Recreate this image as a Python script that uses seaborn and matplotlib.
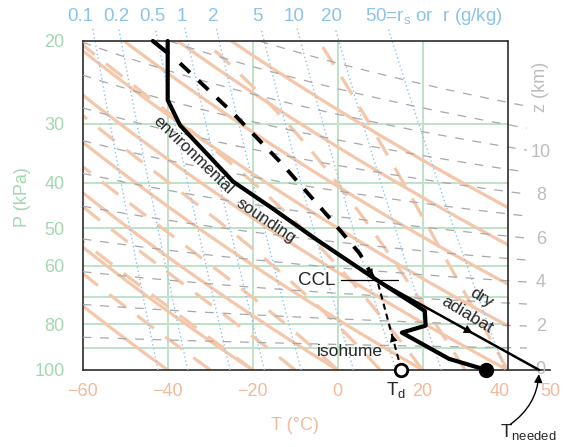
import numpy as np
import matplotlib
matplotlib.use("Agg")
import matplotlib.pyplot as plt
import seaborn as sns
from matplotlib.ticker import NullLocator, NullFormatter
from matplotlib.transforms import Bbox, TransformedBbox, ScaledTranslation, offset_copy

# ---- values ----
sounding_T = [-40, -40, -37.1, -24.6, -15.9, -4.9, 9.3, 20.5, 20.7, 15.1, 26.2, 35]
sounding_P = [20, 26.7, 30.2, 39.8, 45.0, 52.9, 64.5, 74.9, 80.5, 83.3, 94.7, 100]
top_branch_T = [-43.5, -40]
top_branch_P = [20, 21.2]
parcel_T = [-37.1, -24.9, -13.2, -2.2, 5.2, 8.3]
parcel_P = [22.3, 28.3, 36.4, 47.2, 56.6, 63.4]
T_sfc, Td_sfc, T_needed = 35, 15, 47.4
ccl_T, ccl_P = 9.3, 64.5

theta_dry = [-40, -20, 0, 20, 40, 60, 80, 100, 120]      # degC
theta_w = [-30, -20, -10, 0, 10, 20, 30, 40]              # degC
r_isohume = [0.1, 0.2, 0.5, 1, 2, 5, 10, 20, 50]          # g/kg
r_labels = ["0.1", "0.2", "0.5", "1", "2", "5", "10", "20",
            "50=r$_\\mathregular{s}$ or  r (g/kg)"]
z_lines = list(range(1, 13))                               # km
z_labels = [0, 2, 4, 6, 8, 10]
p_ticks = [20, 30, 40, 50, 60, 70, 80, 90, 100]
p_ticklabels = ["20", "30", "40", "50", "60", "", "80", "", "100"]
t_ticks = list(range(-60, 51, 5))
t_labelled = {-60: "\u221260", -40: "\u221240", -20: "\u221220", 0: "0", 20: "20", 40: "40", 50: "50"}

GREEN = "#bde3c8"
GREEN_TXT = "#a3d8b0"
ORANGE = "#f4c6aa"
ORANGE_TXT = "#f0bb9c"
BLUE = "#8cc3eb"
GRAY = "#a8a8a8"
GRAY_TXT = "#bdbdbd"
FRAME = "#2b2b2b"

Rd, cp, Lv, eps = 287.0, 1004.0, 2.5e6, 0.622


def es(T):  # kPa, T in K
    return 0.611 * np.exp(5423.0 * (1 / 273.15 - 1 / T))


def td_from_r(r, P):
    e = r * P / (622.0 + r)
    return 1 / (1 / 273.15 - np.log(e / 0.611) / 5423.0) - 273.15


def moist_adiabat(tw, P):
    def slope(T, p):
        e = es(T)
        r = eps * e / (p - e)
        return (Rd * T + Lv * r) / (p * (cp + Lv ** 2 * r * eps / (Rd * T ** 2)))
    T = np.empty_like(P)
    T[0] = tw + 273.15
    for i in range(1, len(P)):
        dp = P[i] - P[i - 1]
        k1 = slope(T[i - 1], P[i - 1])
        k2 = slope(T[i - 1] + dp * k1, P[i])
        T[i] = T[i - 1] + dp * (k1 + k2) / 2
    return T - 273.15


sns.set_style("white")
plt.rcParams["font.family"] = ["Liberation Sans", "DejaVu Sans"]

fig = plt.figure(figsize=(5.75, 4.47), dpi=100)
ax = fig.add_axes([0.1438, 0.1723, 0.8130, 0.7360])
ax.set_yscale("log")
ax.set_xlim(-60, 50)
ax.set_ylim(100, 20)
box = TransformedBbox(Bbox([[-60, 20], [40, 100]]), ax.transData)

# green isobars / isotherms
for p in p_ticks[1:-1]:
    ax.plot([-60, 40], [p, p], color=GREEN, lw=1.4, zorder=1)
for t in [-40, -20, 0, 20]:
    ax.plot([t, t], [20, 100], color=GREEN, lw=1.4, zorder=1)

P = np.linspace(100, 20, 801)

# dry adiabats (solid) and moist adiabats (dashed)
for th in theta_dry:
    T = (th + 273.15) * (P / 100) ** 0.286 - 273.15
    ln, = ax.plot(T, P, color=ORANGE, lw=2.3, solid_capstyle="butt", zorder=2)
    ln.set_clip_box(box)
for tw in theta_w:
    T = moist_adiabat(tw, P)
    ln, = ax.plot(T, P, color=ORANGE, lw=2.3, ls=(0, (6.5, 4.5)), dash_capstyle="butt", zorder=2)
    ln.set_clip_box(box)

# isohumes
Pi = np.linspace(100, 18.77, 300)
for i, (r, lab) in enumerate(zip(r_isohume, r_labels)):
    ax.plot(td_from_r(r, Pi), Pi, color=BLUE, lw=1.0, ls=(0, (1, 2)), zorder=3, clip_on=False)
    x0 = td_from_r(r, 17.7)
    if lab.startswith("50"):
        ax.text(x0, 17.7, lab, ha="left", va="center", color=BLUE, fontsize=13.5,
                transform=offset_copy(ax.transData, fig, x=-19, units="dots"), clip_on=False)
    else:
        shift = -10 if i == 0 else 0
        ax.text(x0, 17.7, lab, ha="center", va="center", color=BLUE, fontsize=13.5,
                transform=offset_copy(ax.transData, fig, x=shift, units="dots"), clip_on=False)

# height contours
Tz = np.linspace(-60, 44.5, 400)
for z in z_lines:
    Pz = 100 * np.exp(-z * 1000 / (29.27 * (Tz + 273.15)))
    Pz = np.where(Pz >= 20, Pz, np.nan)
    ax.plot(Tz, Pz, color=GRAY, lw=0.9, ls=(0, (7, 7)), zorder=3)
for z in z_labels:
    pz = 100 * np.exp(-z * 1000 / (29.27 * (47.8 + 273.15)))
    ax.text(47.8, pz, str(z), ha="center", va="center", color=GRAY_TXT, fontsize=13, zorder=4)
ax.text(0.980, 0.860, "z (km)", transform=ax.transAxes, rotation=90,
        ha="center", va="center", color=GRAY_TXT, fontsize=13)

# frame
for s in ["top", "right"]:
    ax.spines[s].set_visible(False)
for s in ["left", "bottom"]:
    ax.spines[s].set_color(FRAME)
    ax.spines[s].set_linewidth(1.2)
ax.plot([-60, 40], [20, 20], color=FRAME, lw=1.2, clip_on=False, zorder=6)
ax.plot([40, 40], [20, 100], color=FRAME, lw=1.2, clip_on=False, zorder=6)

# ticks
ax.set_xticks(t_ticks)
ax.set_xticklabels([t_labelled.get(t, "") for t in t_ticks])
ax.tick_params(axis="x", direction="inout", length=13, width=1.1, color=GREEN,
               labelcolor=ORANGE_TXT, labelsize=13, pad=3)
for t, tk in zip(t_ticks, ax.xaxis.get_major_ticks()):
    if t >= 40:
        tk.tick1line.set_color(FRAME)
    if t == 40:
        tk.label1.set_transform(tk.label1.get_transform() +
                                ScaledTranslation(-0.08, 0, fig.dpi_scale_trans))
ax.set_yticks(p_ticks)
ax.set_yticklabels(p_ticklabels)
ax.yaxis.set_minor_locator(NullLocator())
ax.yaxis.set_minor_formatter(NullFormatter())
ax.tick_params(axis="y", direction="out", length=10, width=1.1, color=GREEN,
               labelcolor=GREEN_TXT, labelsize=13, pad=3)

ax.text(-0.128, 0.526, "P (kPa)", transform=ax.transAxes, rotation=90,
        ha="center", va="center", color=GREEN_TXT, fontsize=13)
ax.text(0.4545, -0.170, "T (\u00b0C)", transform=ax.transAxes,
        ha="center", va="center", color=ORANGE_TXT, fontsize=13)

# environmental sounding
sns.lineplot(x=sounding_T, y=sounding_P, sort=False, estimator=None, color="black",
             lw=3, ax=ax, zorder=7)
ax.lines[-1].set_clip_on(False)
ax.plot(top_branch_T, top_branch_P, color="black", lw=3, zorder=7, clip_on=False)
ax.text(-34.0, 34.9, "environmental", rotation=-44, rotation_mode="anchor",
        ha="center", va="center", fontsize=12, zorder=8)
ax.text(-16.9, 48.2, "sounding", rotation=-34, rotation_mode="anchor",
        ha="center", va="center", fontsize=12, zorder=8)

# parcel path above CCL
ax.plot(parcel_T, parcel_P, color="black", lw=2.8, ls=(0, (3.5, 3)), dash_capstyle="butt", zorder=7)
ax.annotate("", xy=(parcel_T[-1], parcel_P[-1]), xytext=(parcel_T[-2], parcel_P[-2]),
            arrowprops=dict(arrowstyle="-|>", color="black", lw=0.01, mutation_scale=14,
                            shrinkA=0, shrinkB=0), zorder=8)


def along(t0, p0, t1, p1, f):
    return t0 + f * (t1 - t0), np.exp(np.log(p0) + f * (np.log(p1) - np.log(p0)))


# isohume from Td to CCL
ax.plot([Td_sfc, ccl_T], [100, ccl_P], color="black", lw=1.5, ls=(0, (3, 2)), zorder=7)
a0 = along(Td_sfc, 100, ccl_T, ccl_P, 0.30)
a1 = along(Td_sfc, 100, ccl_T, ccl_P, 0.40)
ax.annotate("", xy=a1, xytext=a0,
            arrowprops=dict(arrowstyle="-|>", color="black", lw=0.01, mutation_scale=14,
                            shrinkA=0, shrinkB=0), zorder=8)
ax.text(2.9, 91.5, "isohume", ha="center", va="center", fontsize=12.5, zorder=8)

# dry adiabat from CCL to T needed
ax.plot([ccl_T, T_needed], [ccl_P, 100], color="black", lw=1.8, zorder=7, clip_on=False)
b0 = along(ccl_T, ccl_P, T_needed, 100, 0.50)
b1 = along(ccl_T, ccl_P, T_needed, 100, 0.59)
ax.annotate("", xy=b1, xytext=b0,
            arrowprops=dict(arrowstyle="-|>", color="black", lw=0.01, mutation_scale=16,
                            shrinkA=0, shrinkB=0), zorder=8)
ax.text(33.8, 70.2, "dry", rotation=-31, rotation_mode="anchor", ha="center", va="center",
        fontsize=12.5, zorder=8)
ax.text(30.4, 76.2, "adiabat", rotation=-31, rotation_mode="anchor", ha="center", va="center",
        fontsize=12.5, zorder=8)

# CCL label
ax.plot([0.9, 14.3], [ccl_P, ccl_P], color="black", lw=0.9, zorder=7)
ax.text(-4.9, ccl_P, "CCL", ha="center", va="center", fontsize=13.5, zorder=8)

# surface points
ax.plot([T_sfc], [100], "o", color="black", ms=10, zorder=9, clip_on=False)
ax.plot([Td_sfc], [100], "o", mfc="white", mec="black", mew=2, ms=9, zorder=9, clip_on=False)
ax.text(Td_sfc - 1.2, -0.062, "T$_\\mathregular{d}$", transform=ax.get_xaxis_transform(),
        ha="center", va="center", fontsize=13.5)

# T needed
ax.text(0.9525, -0.192, "T$_\\mathregular{needed}$", transform=ax.transAxes,
        ha="center", va="center", fontsize=13.5)
ax.annotate("", xy=(T_needed, 100), xycoords="data", xytext=(0.915, -0.165),
            textcoords="axes fraction",
            arrowprops=dict(arrowstyle="-|>", color="black", lw=1.0, mutation_scale=12,
                            shrinkA=0, shrinkB=3, connectionstyle="arc3,rad=0.25"),
            annotation_clip=False)

fig.savefig("out.png", dpi=100)
